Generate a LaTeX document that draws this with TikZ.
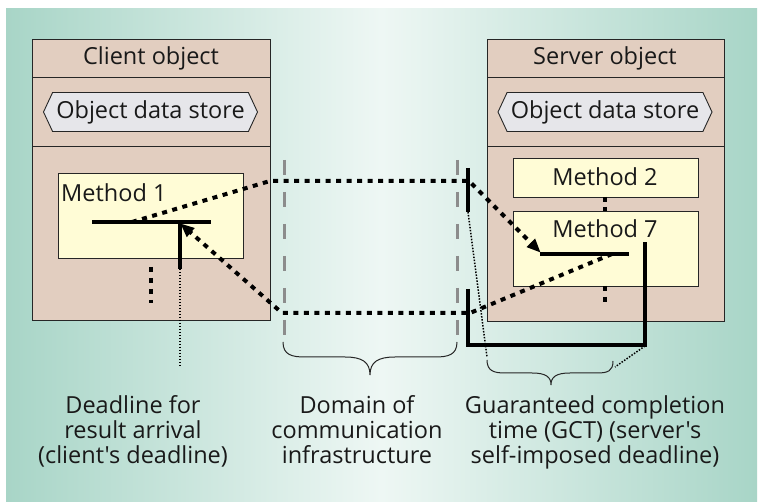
\documentclass[tikz,border=0pt]{standalone}
\usepackage{fontspec}
\newfontfamily\labelfont{Open Sans}
\usetikzlibrary{arrows.meta,shapes.symbols}

\definecolor{bgedge}{HTML}{A8D5C7}
\definecolor{bgmid}{HTML}{EEF7F4}
\definecolor{objfill}{HTML}{E2CEC0}
\definecolor{methfill}{HTML}{FFFCD6}
\definecolor{storefill}{HTML}{E6E6EA}
\definecolor{domaingray}{HTML}{8C8C8C}

\tikzset{
  txt/.style={font=\labelfont\fontsize{23.5}{25}\selectfont, text=black!90, inner sep=0pt},
  objbox/.style={draw=black!85, line width=0.9pt, fill=objfill},
  methbox/.style={draw=black!85, line width=0.9pt, fill=methfill},
  store/.style={signal, signal to=west and east, signal pointer angle=130,
    draw=black!85, line width=0.9pt, fill=storefill, minimum width=214pt,
    minimum height=39pt, inner sep=0pt, txt},
  msgline/.style={line width=4pt, dash pattern=on 5pt off 5.5pt},
  msgarrow/.style={msgline, -{Triangle[length=14pt,width=11pt]}, shorten >=-1pt},
  deadbar/.style={line width=3.5pt},
  leader/.style={line width=1.5pt, dash pattern=on 1.5pt off 1.5pt},
  domainline/.style={line width=3pt, domaingray, dash pattern=on 15pt off 17pt},
  bracecurve/.style={line width=1pt, black!85},
}

\begin{document}
\begin{tikzpicture}[x=1pt, y=-1pt]
\useasboundingbox (0,0) rectangle (758,502);
\fill[white] (0,0) rectangle (758,502);
\shade[left color=bgedge, right color=bgedge, middle color=bgmid] (6,9) rectangle (757,502);

% client object
\draw[objbox] (32,39) rectangle (270,320);
\draw[black!85, line width=0.9pt] (32,77) -- (270,77) (32,146) -- (270,146);
\node[txt] (ctitle) at (151,58) {Client object};
\node[store] (cstore) at (150.5,112) {Object data store};
\draw[methbox] (58,173) rectangle (243,258);
\node[txt, anchor=west] (m1) at (61,193) {Method 1};

% server object
\draw[objbox] (487,39) rectangle (724,321);
\draw[black!85, line width=0.9pt] (487,77) -- (724,77) (487,146) -- (724,146);
\node[txt] (stitle) at (605,58) {Server object};
\node[store] (sstore) at (605,112) {Object data store};
\draw[methbox] (513,158) rectangle (698,197);
\node[txt] (m2) at (605,177) {Method 2};
\draw[methbox] (513,211) rectangle (698,286);
\node[txt] (m7) at (605,229) {Method 7};

% further methods
\draw[msgline, dash pattern=on 5pt off 6pt] (151,267) -- (151,303);
\draw[msgline, dash pattern=on 5pt off 5pt] (605,197) -- (605,211);
\draw[msgline, dash pattern=on 5pt off 6pt] (605,286) -- (605,302);

% domain of the communication infrastructure
\draw[domainline] (284,160) -- (284,345);
\draw[domainline] (457,160) -- (457,345);

% client invocation and deadline
\coordinate (cstart) at (132,222);
\coordinate (cdead) at (181,224);
\draw[deadbar] (92,222) -- (211,222);
\draw[deadbar] (180,222) -- (180,269);
\draw[leader] (180,269) -- (180,368);

% server execution and guaranteed completion time
\coordinate (sstart) at (540,252);
\coordinate (send) at (612,254);
\draw[deadbar] (540,254) -- (629,254);
\draw[deadbar] (468,168) -- (468,212);
\draw[leader] (468,212) -- (487,357);
\draw[deadbar] (468,289) -- (468,345) -- (645,345) -- (645,242);
\draw[leader] (645,346) -- (615,367);

% request and reply messages
\draw[msgarrow] (cstart) -- (270,181) -- (469,181) -- (sstart);
\draw[msgarrow] (send) -- (470,313) -- (282,313) -- (cdead);

% braces
\draw[bracecurve] (283,342) .. controls (283,355) and (292,357) .. (305,357) -- (345,357)
  .. controls (362,357) and (370,362) .. (370,375)
  .. controls (370,362) and (378,357) .. (395,357) -- (435,357)
  .. controls (448,357) and (457,355) .. (457,342);
\draw[bracecurve] (487,360) .. controls (487,371) and (494,373) .. (505,373) -- (532,373)
  .. controls (546,373) and (551,377) .. (551,385)
  .. controls (551,377) and (556,373) .. (570,373) -- (597,373)
  .. controls (608,373) and (613,371) .. (613,361);

% captions
\node[txt, align=center, anchor=north] (lclient) at (133,395)
  {Deadline for\\result arrival\\(client's deadline)};
\node[txt, align=center, anchor=north] (ldomain) at (357,395)
  {Domain of\\communication\\infrastructure};
\node[txt, align=center, anchor=north] (lgct) at (595,395)
  {Guaranteed completion\\time (GCT) (server's\\self-imposed deadline)};
\end{tikzpicture}
\end{document}
